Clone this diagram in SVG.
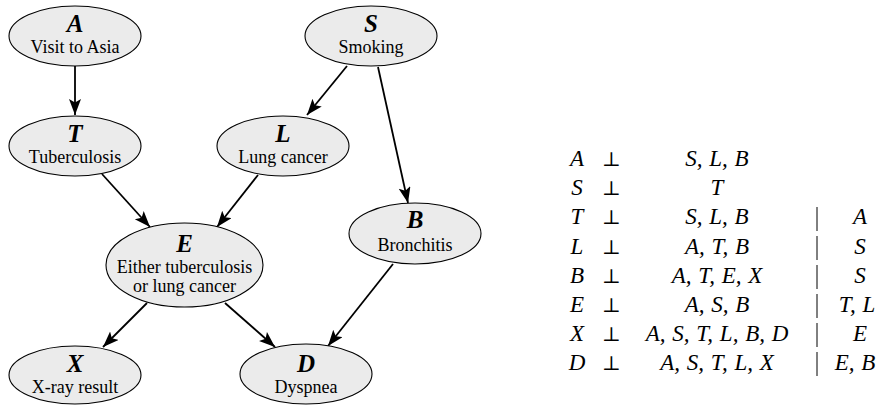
<svg xmlns="http://www.w3.org/2000/svg" width="887" height="405" viewBox="0 0 887 405">
<style>
.node ellipse{fill:#ebebeb;stroke:#000;stroke-width:1.1}
.sym{font-family:'Liberation Serif','Times New Roman',serif;font-weight:bold;font-style:italic;font-size:25px;text-anchor:middle;fill:#000}
.lab{font-family:'Liberation Serif','Times New Roman',serif;font-size:18px;text-anchor:middle;fill:#000}
.edge{stroke:#000;stroke-width:1.8;fill:none;marker-end:url(#ah)}
.m{font-family:'Liberation Serif','Times New Roman',serif;font-style:italic;font-size:23px;text-anchor:middle;fill:#000;word-spacing:1px}
.perp{font-family:'DejaVu Serif',serif;font-size:20px;text-anchor:middle;fill:#000}
.bar{stroke:#000;stroke-width:1}
</style>
<defs>
<marker id="ah" markerUnits="userSpaceOnUse" markerWidth="18" markerHeight="14" refX="16" refY="6" orient="auto" viewBox="0 0 18 14">
<path d="M0,0 L16,6 L0,12 L3.5,6 z" fill="#000"/>
</marker>
</defs>
<g id="connectors">
<line class="edge" x1="75" y1="66" x2="75" y2="115"/>
<line class="edge" x1="347" y1="66" x2="307" y2="115"/>
<line class="edge" x1="378" y1="67" x2="408" y2="203"/>
<line class="edge" x1="102" y1="174" x2="150" y2="227"/>
<line class="edge" x1="258" y1="175" x2="217" y2="227"/>
<line class="edge" x1="147" y1="303" x2="103" y2="347"/>
<line class="edge" x1="225" y1="303" x2="275" y2="347"/>
<line class="edge" x1="393" y1="264" x2="328" y2="346"/>
</g>
<g id="node-A" class="node"><ellipse cx="75" cy="36" rx="66" ry="30"/><text class="sym" x="75" y="32">A</text><text class="lab" x="75" y="53">Visit to Asia</text></g>
<g id="node-S" class="node"><ellipse cx="371" cy="36" rx="66" ry="30"/><text class="sym" x="371" y="32">S</text><text class="lab" x="371" y="53">Smoking</text></g>
<g id="node-T" class="node"><ellipse cx="75" cy="146" rx="66" ry="30"/><text class="sym" x="75" y="142">T</text><text class="lab" x="75" y="163">Tuberculosis</text></g>
<g id="node-L" class="node"><ellipse cx="283" cy="146" rx="66" ry="30"/><text class="sym" x="283" y="142">L</text><text class="lab" x="283" y="163">Lung cancer</text></g>
<g id="node-E" class="node"><ellipse cx="184.5" cy="265" rx="78.5" ry="42"/><text class="sym" x="184.5" y="252">E</text><text class="lab" x="184.5" y="273">Either tuberculosis</text><text class="lab" x="184.5" y="292">or lung cancer</text></g>
<g id="node-B" class="node"><ellipse cx="415" cy="233.5" rx="66" ry="30.5"/><text class="sym" x="415" y="228">B</text><text class="lab" x="415" y="250.5">Bronchitis</text></g>
<g id="node-X" class="node"><ellipse cx="75" cy="375" rx="66" ry="29"/><text class="sym" x="75" y="372">X</text><text class="lab" x="75" y="393">X-ray result</text></g>
<g id="node-D" class="node"><ellipse cx="306" cy="374" rx="66" ry="30"/><text class="sym" x="306" y="372">D</text><text class="lab" x="306" y="393">Dyspnea</text></g>
<g id="table">
<text class="m" x="577" y="166">A</text><text class="perp" x="611.5" y="166">⊥</text><text class="m" x="717" y="166">S, L, B</text>
<text class="m" x="577" y="195.2">S</text><text class="perp" x="611.5" y="195.2">⊥</text><text class="m" x="717" y="195.2">T</text>
<text class="m" x="577" y="224.4">T</text><text class="perp" x="611.5" y="224.4">⊥</text><text class="m" x="717" y="224.4">S, L, B</text><text class="m" x="860" y="224.4">A</text>
<text class="m" x="577" y="253.6">L</text><text class="perp" x="611.5" y="253.6">⊥</text><text class="m" x="717" y="253.6">A, T, B</text><text class="m" x="860" y="253.6">S</text>
<text class="m" x="577" y="282.8">B</text><text class="perp" x="611.5" y="282.8">⊥</text><text class="m" x="717" y="282.8">A, T, E, X</text><text class="m" x="860" y="282.8">S</text>
<text class="m" x="577" y="312">E</text><text class="perp" x="611.5" y="312">⊥</text><text class="m" x="717" y="312">A, S, B</text><text class="m" x="857" y="312">T, L</text>
<text class="m" x="577" y="341.2">X</text><text class="perp" x="611.5" y="341.2">⊥</text><text class="m" x="717" y="341.2">A, S, T, L, B, D</text><text class="m" x="860" y="341.2">E</text>
<text class="m" x="577" y="370.4">D</text><text class="perp" x="611.5" y="370.4">⊥</text><text class="m" x="717" y="370.4">A, S, T, L, X</text><text class="m" x="855" y="370.4">E, B</text>
<line class="bar" x1="817" y1="207" x2="817" y2="231"/>
<line class="bar" x1="817" y1="236" x2="817" y2="260"/>
<line class="bar" x1="817" y1="265" x2="817" y2="289"/>
<line class="bar" x1="817" y1="294" x2="817" y2="318"/>
<line class="bar" x1="817" y1="323" x2="817" y2="347"/>
<line class="bar" x1="817" y1="352" x2="817" y2="376"/>
</g>
</svg>
